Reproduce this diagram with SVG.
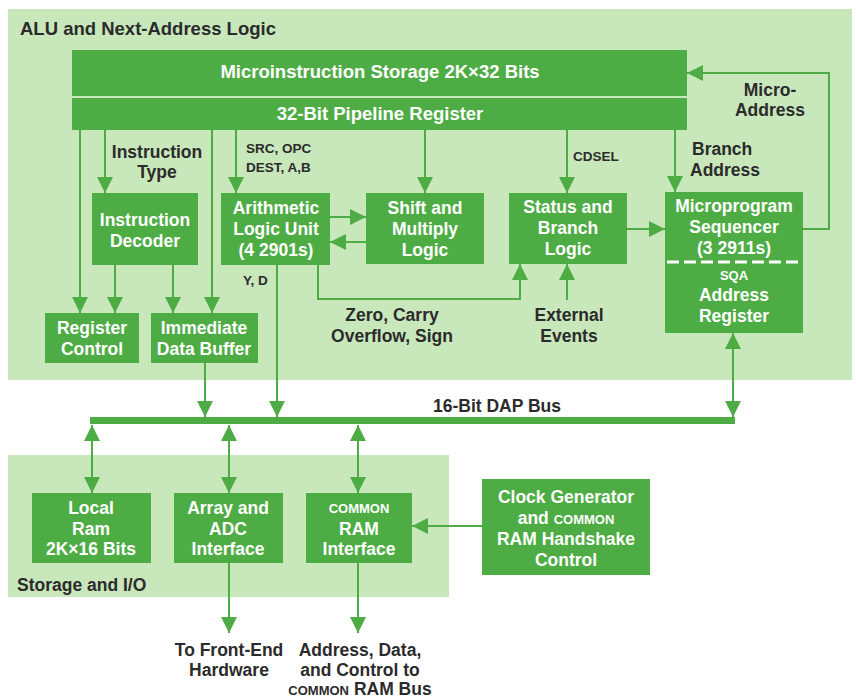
<svg xmlns="http://www.w3.org/2000/svg" width="856" height="698" viewBox="0 0 856 698">
<defs>
<style>
.panel{fill:#c8e7bb}
.box{fill:#4eac45}
.ln{fill:none;stroke:#4eac45;stroke-width:2}
.a{marker-end:url(#ah)}
.b{marker-start:url(#ahs);marker-end:url(#ah)}
.bt{font-family:"Liberation Sans",Arial,sans-serif;font-weight:bold;font-size:17.5px;fill:#ffffff;text-anchor:middle}
.lb{font-family:"Liberation Sans",Arial,sans-serif;font-weight:bold;font-size:17.5px;fill:#2b2b2b;text-anchor:middle}
.sm{font-family:"Liberation Sans",Arial,sans-serif;font-weight:bold;font-size:13.5px;fill:#2b2b2b}
.sc{font-size:13px}
</style>
<marker id="ah" markerUnits="userSpaceOnUse" markerWidth="16" markerHeight="16" refX="16" refY="8" orient="auto"><path d="M0,0 L16,8 L0,16 z" fill="#4eac45"/></marker>
<marker id="ahs" markerUnits="userSpaceOnUse" markerWidth="16" markerHeight="16" refX="16" refY="8" orient="auto-start-reverse"><path d="M0,0 L16,8 L0,16 z" fill="#4eac45"/></marker>
</defs>
<rect width="856" height="698" fill="#ffffff"/>
<rect class="panel" x="8" y="9" width="844" height="371"/>
<rect class="panel" x="8" y="455" width="441" height="142"/>
<text x="20" y="35" class="lb" style="text-anchor:start;font-size:18.5px">ALU and Next-Address Logic</text>
<text x="17" y="591" class="lb" style="text-anchor:start">Storage and I/O</text>

<g id="connectors">
<line class="ln a" x1="80" y1="130" x2="80" y2="313"/>
<line class="ln a" x1="105" y1="130" x2="105" y2="193"/>
<line class="ln a" x1="212" y1="130" x2="212" y2="313"/>
<line class="ln a" x1="236" y1="130" x2="236" y2="193"/>
<line class="ln a" x1="425" y1="130" x2="425" y2="193"/>
<line class="ln a" x1="567" y1="130" x2="567" y2="193"/>
<line class="ln a" x1="675" y1="130" x2="675" y2="192"/>
<line class="ln a" x1="115" y1="265" x2="115" y2="313"/>
<line class="ln a" x1="173" y1="265" x2="173" y2="313"/>
<line class="ln a" x1="330" y1="217" x2="366" y2="217"/>
<line class="ln a" x1="366" y1="242" x2="330" y2="242"/>
<path class="ln a" d="M318,265 V299 H520 V264"/>
<line class="ln a" x1="567" y1="300" x2="567" y2="264"/>
<line class="ln a" x1="627" y1="229" x2="665" y2="229"/>
<path class="ln a" d="M803,229 H829 V73 H687"/>
<line class="ln a" x1="277" y1="265" x2="277" y2="417"/>
<line class="ln a" x1="205" y1="363" x2="205" y2="417"/>
<line class="ln b" x1="733" y1="333" x2="733" y2="417"/>
<line class="ln b" x1="92" y1="425" x2="92" y2="493"/>
<line class="ln b" x1="229" y1="425" x2="229" y2="493"/>
<line class="ln b" x1="358" y1="425" x2="358" y2="493"/>
<line class="ln a" x1="482" y1="526" x2="412" y2="526"/>
<line class="ln a" x1="229" y1="563" x2="229" y2="633"/>
<line class="ln a" x1="358" y1="563" x2="358" y2="633"/>
</g>

<g id="bus">
<rect class="box" x="90" y="417" width="645" height="7"/>
<text x="433" y="412" class="lb" style="text-anchor:start">16-Bit DAP Bus</text>
</g>

<g id="storage">
<rect class="box" x="72" y="50" width="615" height="46"/>
<text x="380" y="78" class="bt" style="font-size:18.5px">Microinstruction Storage 2K×32 Bits</text>
</g>
<g id="pipeline">
<rect class="box" x="72" y="98" width="615" height="32"/>
<text x="380" y="120" class="bt" style="font-size:18.5px">32-Bit Pipeline Register</text>
</g>

<g id="labels">
<text class="lb"><tspan x="157" y="158">Instruction</tspan><tspan x="157" y="178">Type</tspan></text>
<text class="sm"><tspan x="246" y="153">SRC, OPC</tspan><tspan x="246" y="172">DEST, A,B</tspan></text>
<text class="sm" x="573" y="161">CDSEL</text>
<text class="lb" style="text-anchor:start"><tspan x="692" y="155">Branch</tspan><tspan x="690" y="176">Address</tspan></text>
<text class="lb"><tspan x="770" y="96">Micro-</tspan><tspan x="770" y="116">Address</tspan></text>
<text class="sm" x="243" y="285">Y, D</text>
<text class="lb"><tspan x="392" y="321">Zero, Carry</tspan><tspan x="392" y="342">Overflow, Sign</tspan></text>
<text class="lb"><tspan x="569" y="321">External</tspan><tspan x="569" y="342">Events</tspan></text>
<text class="lb"><tspan x="229" y="656">To Front-End</tspan><tspan x="229" y="676">Hardware</tspan></text>
<text class="lb"><tspan x="360" y="656">Address, Data,</tspan><tspan x="360" y="676">and Control to</tspan><tspan x="360" y="695"><tspan class="sc">COMMON</tspan> RAM Bus</tspan></text>
</g>

<g id="instruction-decoder">
<rect class="box" x="92" y="193" width="106" height="72"/>
<text class="bt"><tspan x="145" y="226">Instruction</tspan><tspan x="145" y="247">Decoder</tspan></text>
</g>
<g id="alu">
<rect class="box" x="221" y="193" width="109" height="72"/>
<text class="bt"><tspan x="276" y="214">Arithmetic</tspan><tspan x="276" y="235">Logic Unit</tspan><tspan x="276" y="256">(4 2901s)</tspan></text>
</g>
<g id="shift">
<rect class="box" x="366" y="193" width="118" height="71"/>
<text class="bt"><tspan x="425" y="214">Shift and</tspan><tspan x="425" y="235">Multiply</tspan><tspan x="425" y="256">Logic</tspan></text>
</g>
<g id="status">
<rect class="box" x="509" y="193" width="118" height="71"/>
<text class="bt"><tspan x="568" y="213">Status and</tspan><tspan x="568" y="234">Branch</tspan><tspan x="568" y="255">Logic</tspan></text>
</g>
<g id="sequencer">
<rect class="box" x="665" y="192" width="138" height="141"/>
<text class="bt"><tspan x="734" y="212">Microprogram</tspan><tspan x="734" y="233">Sequencer</tspan><tspan x="734" y="254">(3 2911s)</tspan></text>
<line x1="667" y1="262" x2="802" y2="262" stroke="#ffffff" stroke-width="3" stroke-dasharray="12,5"/>
<text class="bt" x="734" y="280" style="font-size:13px">SQA</text>
<text class="bt"><tspan x="734" y="301">Address</tspan><tspan x="734" y="322">Register</tspan></text>
</g>
<g id="register-control">
<rect class="box" x="45" y="313" width="94" height="50"/>
<text class="bt"><tspan x="92" y="334">Register</tspan><tspan x="92" y="355">Control</tspan></text>
</g>
<g id="immediate-data-buffer">
<rect class="box" x="151" y="313" width="107" height="50"/>
<text class="bt"><tspan x="204" y="334">Immediate</tspan><tspan x="204" y="355">Data Buffer</tspan></text>
</g>
<g id="local-ram">
<rect class="box" x="32" y="493" width="119" height="70"/>
<text class="bt"><tspan x="91" y="514">Local</tspan><tspan x="91" y="535">Ram</tspan><tspan x="91" y="555">2K×16 Bits</tspan></text>
</g>
<g id="array-adc">
<rect class="box" x="174" y="493" width="109" height="70"/>
<text class="bt"><tspan x="228" y="514">Array and</tspan><tspan x="228" y="535">ADC</tspan><tspan x="228" y="555">Interface</tspan></text>
</g>
<g id="common-ram">
<rect class="box" x="306" y="493" width="106" height="70"/>
<text class="bt"><tspan x="359" y="513" class="sc">COMMON</tspan><tspan x="359" y="535">RAM</tspan><tspan x="359" y="555">Interface</tspan></text>
</g>
<g id="clock-generator">
<rect class="box" x="482" y="479" width="168" height="96"/>
<text class="bt"><tspan x="566" y="503">Clock Generator</tspan><tspan x="566" y="524">and <tspan class="sc">COMMON</tspan></tspan><tspan x="566" y="545">RAM Handshake</tspan><tspan x="566" y="566">Control</tspan></text>
</g>
</svg>
